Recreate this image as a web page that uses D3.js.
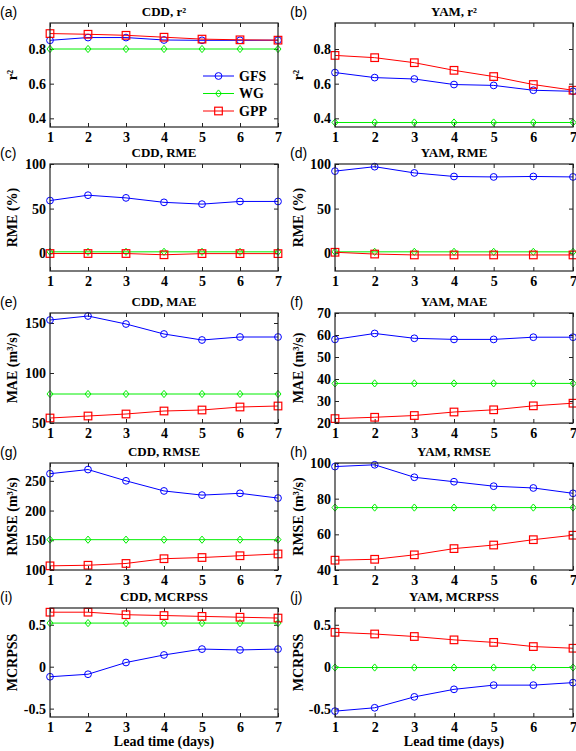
<!DOCTYPE html>
<html><head><meta charset="utf-8">
<script src="https://cdn.jsdelivr.net/npm/d3@7/dist/d3.min.js"></script>
<style>body{margin:0;background:#fff}svg{display:block}</style>
</head><body>
<svg id="chart" width="576" height="751"></svg>
<script>
// ---------- data ----------
const leadDays = [1, 2, 3, 4, 5, 6, 7];
const seriesNames = ["GFS", "WG", "GPP"];

const cddR2GFS = [0.850, 0.866, 0.866, 0.852, 0.850, 0.850, 0.851];
const cddR2WG  = [0.80, 0.80, 0.80, 0.80, 0.80, 0.80, 0.80];
const cddR2GPP = [0.889, 0.885, 0.879, 0.868, 0.857, 0.853, 0.851];

const yamR2GFS = [0.664, 0.635, 0.627, 0.595, 0.590, 0.562, 0.556];
const yamR2WG  = [0.376, 0.376, 0.376, 0.376, 0.376, 0.376, 0.376];
const yamR2GPP = [0.763, 0.750, 0.721, 0.677, 0.641, 0.595, 0.562];

const cddRmeGFS = [59, 65, 62, 57, 55, 58, 58];
const cddRmeWG  = [1.5, 1.5, 1.5, 1.5, 1.5, 1.5, 1.5];
const cddRmeGPP = [-0.4, -0.4, -0.4, -1.8, -0.5, -0.5, -0.5];

const yamRmeGFS = [92, 97, 90, 86, 85.5, 86, 85.5];
const yamRmeWG  = [1.5, 1.5, 1.5, 1.5, 1.5, 1.5, 1.5];
const yamRmeGPP = [1, -1, -2, -2, -2, -2, -2];

const cddMaeGFS = [153, 157, 149, 139, 133, 136, 136];
const cddMaeWG  = [79, 79, 79, 79, 79, 79, 79];
const cddMaeGPP = [55, 57, 59, 62, 63, 66, 67];

const yamMaeGFS = [58, 60.7, 58.5, 58, 58, 59, 59];
const yamMaeWG  = [38, 38, 38, 38, 38, 38, 38];
const yamMaeGPP = [22, 22.6, 23.4, 25, 26, 27.8, 29];

const cddRmseGFS = [262, 269, 250, 233, 226, 229, 221];
const cddRmseWG  = [151, 151, 151, 151, 151, 151, 151];
const cddRmseGPP = [107, 108, 111, 119, 121, 124, 127];

const yamRmseGFS = [98, 99, 92, 89.5, 87, 86, 83];
const yamRmseWG  = [75, 75, 75, 75, 75, 75, 75];
const yamRmseGPP = [45.5, 46, 48.5, 52, 54, 57, 59.5];

const cddCrpssGFS = [-0.12, -0.09, 0.05, 0.14, 0.21, 0.20, 0.21];
const cddCrpssWG  = [0.52, 0.52, 0.52, 0.52, 0.52, 0.52, 0.52];
const cddCrpssGPP = [0.65, 0.65, 0.62, 0.61, 0.60, 0.59, 0.58];

const yamCrpssGFS = [-0.53, -0.49, -0.36, -0.27, -0.22, -0.22, -0.19];
const yamCrpssWG  = [-0.01, -0.01, -0.01, -0.01, -0.01, -0.01, -0.01];
const yamCrpssGPP = [0.41, 0.39, 0.36, 0.32, 0.29, 0.24, 0.22];

const panelLabels = ["(a)", "(b)", "(c)", "(d)", "(e)", "(f)", "(g)", "(h)", "(i)", "(j)"];
const panelTitles = ["CDD, r²", "YAM, r²", "CDD, RME", "YAM, RME", "CDD, MAE", "YAM, MAE",
                     "CDD, RMSE", "YAM, RMSE", "CDD, MCRPSS", "YAM, MCRPSS"];
const yLabels = ["r²", "r²", "RME (%)", "RME (%)", "MAE (m³/s)", "MAE (m³/s)",
                 "RMSE (m³/s)", "RMSE (m³/s)", "MCRPSS", "MCRPSS"];
const yDomains = [[0.35, 0.95], [0.35, 0.95], [-20, 100], [-20, 100], [50, 160], [20, 70],
                  [100, 280], [40, 100], [-0.6, 0.7], [-0.6, 0.7]];
const yTicks = [[0.4, 0.6, 0.8], [0.4, 0.6, 0.8], [0, 50, 100], [0, 50, 100], [50, 100, 150],
                [20, 30, 40, 50, 60, 70], [100, 150, 200, 250], [40, 60, 80, 100],
                [-0.5, 0, 0.5], [-0.5, 0, 0.5]];
const panelSeries = [
  [cddR2GFS, cddR2WG, cddR2GPP], [yamR2GFS, yamR2WG, yamR2GPP],
  [cddRmeGFS, cddRmeWG, cddRmeGPP], [yamRmeGFS, yamRmeWG, yamRmeGPP],
  [cddMaeGFS, cddMaeWG, cddMaeGPP], [yamMaeGFS, yamMaeWG, yamMaeGPP],
  [cddRmseGFS, cddRmseWG, cddRmseGPP], [yamRmseGFS, yamRmseWG, yamRmseGPP],
  [cddCrpssGFS, cddCrpssWG, cddCrpssGPP], [yamCrpssGFS, yamCrpssWG, yamCrpssGPP]
];
const xLabel = "Lead time (days)";

// ---------- layout ----------
const colX = [[50, 278], [335, 573]];
const rowY = [[23, 127], [164, 271], [313, 423], [463, 570], [608, 717]];
const colYLabelX = [12, 298];
const colors = ["#0000ff", "#00ee00", "#ff0000"];
const serif = "'Liberation Serif','Times New Roman',serif";
const sans = "'Liberation Sans',Arial,sans-serif";

const svg = d3.select("#chart");

function drawMarker(g, type, x, y, color) {
  if (type === 0) {
    g.append("circle").attr("cx", x).attr("cy", y).attr("r", 3.4)
      .attr("fill", "none").attr("stroke", color).attr("stroke-width", 1);
  } else if (type === 1) {
    g.append("path").attr("d", `M${x},${y-3.6}L${x+3},${y}L${x},${y+3.6}L${x-3},${y}Z`)
      .attr("fill", "none").attr("stroke", color).attr("stroke-width", 1);
  } else {
    g.append("rect").attr("x", x - 3.8).attr("y", y - 3.8).attr("width", 7.6).attr("height", 7.6)
      .attr("fill", "none").attr("stroke", color).attr("stroke-width", 1.2);
  }
}

panelTitles.forEach((title, i) => {
  const col = i % 2, row = Math.floor(i / 2);
  const [x0, x1] = colX[col];
  const [y0, y1] = rowY[row];
  const x = d3.scaleLinear().domain([1, 7]).range([x0, x1]);
  const y = d3.scaleLinear().domain(yDomains[i]).range([y1, y0]);
  const g = svg.append("g");

  // axes (inward ticks on all four sides)
  const tl = 4;
  const fmt = d => String(d);
  const axB = g.append("g").attr("transform", `translate(0,${y1})`)
    .call(d3.axisBottom(x).tickValues(leadDays).tickSizeInner(-tl).tickSizeOuter(0).tickPadding(5).tickFormat(fmt));
  const axT = g.append("g").attr("transform", `translate(0,${y0})`)
    .call(d3.axisTop(x).tickValues(leadDays).tickSizeInner(-tl).tickSizeOuter(0).tickFormat(""));
  const axL = g.append("g").attr("transform", `translate(${x0},0)`)
    .call(d3.axisLeft(y).tickValues(yTicks[i]).tickSizeInner(-tl).tickSizeOuter(0).tickPadding(4).tickFormat(fmt));
  const axR = g.append("g").attr("transform", `translate(${x1},0)`)
    .call(d3.axisRight(y).tickValues(yTicks[i]).tickSizeInner(-tl).tickSizeOuter(0).tickFormat(""));
  [axB, axT, axL, axR].forEach(a => {
    a.select(".domain").remove();
    a.selectAll(".tick line").attr("stroke", "#222");
    a.selectAll("text").attr("font-family", serif).attr("font-weight", "bold")
      .attr("font-size", 14).attr("fill", "#000");
  });

  // series
  panelSeries[i].forEach((vals, s) => {
    const line = d3.line().x((d, k) => x(leadDays[k])).y(d => y(d));
    g.append("path").datum(vals).attr("d", line).attr("fill", "none")
      .attr("stroke", colors[s]).attr("stroke-width", 1);
    vals.forEach((v, k) => drawMarker(g, s, x(leadDays[k]), y(v), colors[s]));
  });

  g.append("rect").attr("x", x0).attr("y", y0).attr("width", x1 - x0).attr("height", y1 - y0)
    .attr("fill", "none").attr("stroke", "#222").attr("stroke-width", 1.2);

  // title
  g.append("text").attr("x", (x0 + x1) / 2).attr("y", y0 - 7).attr("text-anchor", "middle")
    .attr("font-family", serif).attr("font-weight", "bold").attr("font-size", 13).text(title);
  // panel label
  g.append("text").attr("x", col === 0 ? 0 : 290).attr("y", y0 - 6.5)
    .attr("font-family", sans).attr("font-size", 14).text(panelLabels[i]);
  // y label
  g.append("text").attr("transform", `translate(${colYLabelX[col]},${(y0 + y1) / 2}) rotate(-90)`)
    .attr("text-anchor", "middle").attr("dy", "0.35em")
    .attr("font-family", serif).attr("font-weight", "bold").attr("font-size", 14).text(yLabels[i]);

  // x label on bottom row
  if (row === 4) {
    g.append("text").attr("x", (x0 + x1) / 2).attr("y", 746).attr("text-anchor", "middle")
      .attr("font-family", serif).attr("font-weight", "bold").attr("font-size", 14).text(xLabel);
  }

  // legend in panel (a)
  if (i === 0) {
    const lg = g.append("g");
    seriesNames.forEach((name, s) => {
      const ly = 76 + s * 17.5;
      lg.append("line").attr("x1", 203).attr("x2", 234).attr("y1", ly).attr("y2", ly)
        .attr("stroke", colors[s]).attr("stroke-width", 1);
      drawMarker(lg, s, 218.5, ly, colors[s]);
      lg.append("text").attr("x", 239).attr("y", ly).attr("dy", "0.35em")
        .attr("font-family", serif).attr("font-weight", "bold").attr("font-size", 14).text(name);
    });
  }
});
</script>
</body></html>
